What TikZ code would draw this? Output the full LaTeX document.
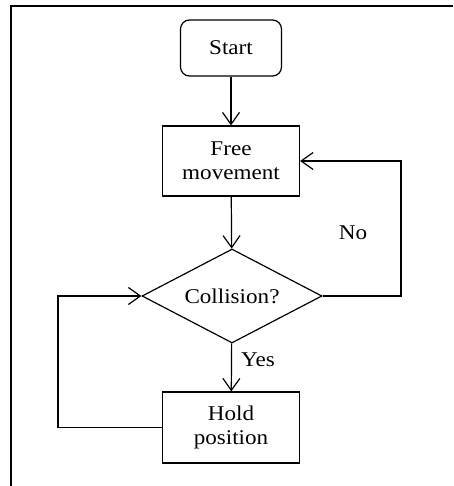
\documentclass[tikz,border=0pt]{standalone}
\usepackage{fontspec}
\setmainfont[FakeStretch=1.1]{Liberation Serif}
\usetikzlibrary{arrows.meta,shapes.geometric}
\begin{document}
\begin{tikzpicture}[x=1pt,y=-1pt, line width=1.2pt,
  font=\fontsize{21}{24}\selectfont,
  box/.style={draw, minimum width=137pt, minimum height=70pt, inner sep=0pt, align=center},
  arr/.style={-{Straight Barb[length=12pt,width=17pt,line width=1.2pt]}}]
\useasboundingbox (0,0) rectangle (453,486);
\draw[line width=2pt] (11,486) -- (11,6) -- (453,6);
\node[box, rounded corners=9pt, minimum width=101pt, minimum height=56pt] (start) at (231,48) {Start};
\node[box] (free) at (231,161) {Free\\movement};
\node[draw, diamond, aspect=1.915, minimum width=180pt, minimum height=94pt, inner sep=0pt] (dec) at (232,296) {Collision?};
\node[box, minimum height=71pt] (hold) at (231,427.5) {Hold\\position};
\coordinate (nr) at (401,296);
\coordinate (nl) at (58,427.5);
\draw[arr] (start) -- (free);
\draw[arr] (free) -- (dec);
\draw[arr] (dec) -- (hold);
\draw[arr] (dec.east) -- (nr) |- (free.east);
\draw[arr] (hold.west) -- (nl) |- (dec.west);
\node (no) at (353,233) {No};
\node (yes) at (258,360) {Yes};
\end{tikzpicture}
\end{document}
